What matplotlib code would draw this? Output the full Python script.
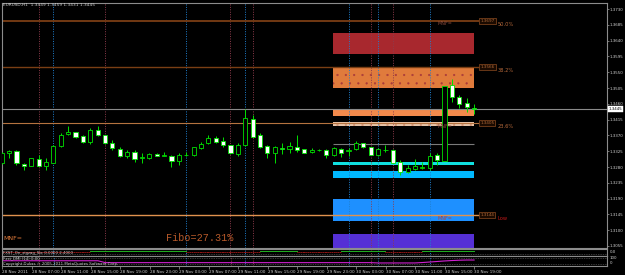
import numpy as np
import matplotlib
matplotlib.use("Agg")
import matplotlib.pyplot as plt
from matplotlib.transforms import blended_transform_factory

# ---------------- data ----------------
opens = [1.3291,1.3320,1.3325,1.3289,1.3284,1.3303,1.3284,1.3292,1.3341,1.3373,
 1.3379,1.3367,1.3352,1.3386,1.3370,1.3349,1.3332,1.3310,1.3322,1.3307,
 1.3307,1.3318,1.3311,1.3312,1.3296,1.3315,1.3313,1.3333,1.3348,1.3364,
 1.3353,1.3342,1.3317,1.3343,1.3416,1.3370,1.3340,1.3321,1.3333,1.3330,
 1.3338,1.3330,1.3323,1.3328,1.3327,1.3315,1.3330,1.3325,1.3330,1.3347,
 1.3336,1.3314,1.3329,1.3329,1.3293,1.3267,1.3275,1.3278,1.3276,1.3314,
 1.3298,1.3514,1.3479,1.3461,1.3449]
highs = [1.3324,1.3329,1.3327,1.3292,1.3307,1.3314,1.3305,1.3343,1.3376,1.3397,
 1.3381,1.3371,1.3390,1.3397,1.3371,1.3357,1.3336,1.3329,1.3329,1.3319,
 1.3321,1.3321,1.3324,1.3314,1.3321,1.3324,1.3338,1.3352,1.3371,1.3368,
 1.3366,1.3343,1.3348,1.3444,1.3428,1.3376,1.3343,1.3340,1.3348,1.3352,
 1.3371,1.3332,1.3333,1.3332,1.3330,1.3336,1.3333,1.3333,1.3355,1.3348,
 1.3338,1.3333,1.3343,1.3330,1.3300,1.3286,1.3302,1.3295,1.3319,1.3321,
 1.3512,1.3530,1.3485,1.3476,1.3459]
lows = [1.3289,1.3305,1.3286,1.3272,1.3283,1.3283,1.3272,1.3291,1.3338,1.3371,
 1.3364,1.3348,1.3346,1.3369,1.3346,1.3329,1.3309,1.3305,1.3295,1.3291,
 1.3302,1.3310,1.3310,1.3281,1.3286,1.3310,1.3311,1.3330,1.3346,1.3349,
 1.3338,1.3318,1.3310,1.3340,1.3365,1.3333,1.3305,1.3292,1.3317,1.3319,
 1.3324,1.3319,1.3319,1.3325,1.3305,1.3310,1.3308,1.3310,1.3329,1.3335,
 1.3314,1.3310,1.3324,1.3291,1.3257,1.3262,1.3272,1.3273,1.3272,1.3286,
 1.3296,1.3466,1.3447,1.3438,1.3431]
closes = [1.3321,1.3325,1.3291,1.3284,1.3305,1.3284,1.3295,1.3340,1.3371,1.3381,
 1.3365,1.3352,1.3385,1.3371,1.3348,1.3333,1.3310,1.3322,1.3302,1.3308,
 1.3316,1.3310,1.3313,1.3298,1.3313,1.3314,1.3336,1.3346,1.3362,1.3352,
 1.3343,1.3319,1.3343,1.3419,1.3366,1.3338,1.3321,1.3336,1.3332,1.3340,
 1.3327,1.3321,1.3328,1.3327,1.3314,1.3333,1.3321,1.3328,1.3348,1.3336,
 1.3315,1.3331,1.3328,1.3292,1.3267,1.3276,1.3282,1.3279,1.3311,1.3300,
 1.3511,1.3479,1.3460,1.3450,1.3445]

time_labels = ["28 Nov 2011", "28 Nov 07:00", "28 Nov 11:00", "28 Nov 15:00",
               "28 Nov 19:00", "28 Nov 23:00", "29 Nov 03:00", "29 Nov 07:00",
               "29 Nov 11:00", "29 Nov 15:00", "29 Nov 19:00", "29 Nov 23:00",
               "30 Nov 03:00", "30 Nov 07:00", "30 Nov 11:00", "30 Nov 15:00",
               "30 Nov 19:00"]
time_label_bars = list(range(0, 65, 4))

price_ticks = [1.3730, 1.3685, 1.3640, 1.3595, 1.3550, 1.3505, 1.3460, 1.3415,
               1.3370, 1.3325, 1.3280, 1.3235, 1.3190, 1.3145, 1.3100, 1.3055]
bid = 1.3445

fib_levels = [1.3697, 1.3566, 1.3405, 1.3144]
fib_names = ["50.0%", "38.2%", "23.6%", "Low"]

zone_lo = [1.3602, 1.3504, 1.3425, 1.3397, 1.3286, 1.3248, 1.3127, 1.3049]
zone_hi = [1.3663, 1.3564, 1.3445, 1.3407, 1.3293, 1.3269, 1.3189, 1.3089]
zone_colors = ["#A8282E", "#E07B3C", "#F38A4C", "#E6C2A6",
               "#10E0E0", "#00B8FF", "#1E90FF", "#5530D5"]
zone_start, zone_end = 44.9, 64.0
mid_line = 1.3345

red_vlines = [5, 14, 31, 34, 50, 53]
blue_vlines = [7, 25, 33, 47, 51, 58]

sub1_state = [0]*12 + [1]*13 + [0]*10 + [1]*5 + [0]*6 + [1]*6 + [0]*5 + [1]*8
sub2_vals = [50]*14 + [32]*37 + [29]*6 + [33, 38, 43, 48, 52, 55, 57, 57]

# ---------------- figure ----------------
W, H = 625, 275
fig = plt.figure(figsize=(6.25, 2.75), dpi=100, facecolor="black")

def box(x0, y0, x1, y1):
    return [x0 / W, 1 - y1 / H, (x1 - x0) / W, (y1 - y0) / H]

xlim = ((2 - 1.7) / 7.38, (607 - 1.7) / 7.38)
ax = fig.add_axes(box(2, 3, 607, 248))
ax1 = fig.add_axes(box(2, 248.5, 607, 255.5))
ax2 = fig.add_axes(box(2, 255.5, 607, 266))
for a in (ax, ax1, ax2):
    a.set_facecolor("black")
    a.set_xlim(*xlim)
    for s in a.spines.values():
        s.set_color("#8C8C8C")
        s.set_linewidth(0.8)
ax.set_ylim(1.30493, 1.37471)

green = "#00E000"
txtc = "#CFCFCF"

# zones
for lo, hi, col in zip(zone_lo, zone_hi, zone_colors):
    ax.fill_between([zone_start, zone_end], lo, hi, color=col, lw=0, zorder=1)
matplotlib.rcParams["hatch.linewidth"] = 0.35
ax.fill_between([zone_start, zone_end], zone_lo[1], zone_hi[1], facecolor="none",
                edgecolor="#A83A3A", hatch="..", lw=0, zorder=1.1)
ax.fill_between([zone_start, zone_end], zone_lo[3], zone_hi[3], facecolor="none",
                edgecolor="#D09070", hatch="..", lw=0, zorder=1.1)

# vertical event lines
for v in red_vlines:
    for a in (ax, ax1, ax2):
        a.axvline(v, color="#8E3B4C", lw=0.7, ls=(0, (1, 1.5)), zorder=2)
for v in blue_vlines:
    for a in (ax, ax1, ax2):
        a.axvline(v, color="#1F7FCF", lw=0.7, ls=(0, (1, 1.5)), zorder=2)

# horizontal lines
fib_cols = ["#7A3E14", "#7A3E14", "#B5733F", "#E0924E"]
fib_lw = [1.3, 1.0, 0.8, 1.0]
for lv, col, lw in zip(fib_levels, fib_cols, fib_lw):
    ax.hlines(lv, xlim[0], 64.7, color=col, lw=lw, zorder=2.5)
ax.axhline(bid, color="#8A8A8A", lw=0.8, zorder=2.5)
ax.hlines(mid_line, zone_start, zone_end, color="#7A7A7A", lw=0.8, zorder=2.5)

# candles
idx = np.arange(len(opens))
o = np.array(opens); c = np.array(closes)
ax.vlines(idx, lows, highs, color=green, lw=0.7, zorder=3)
bottoms = np.minimum(o, c)
heights = np.maximum(np.abs(c - o), 0.00004)
faces = ["white" if cc < oo else "black" for oo, cc in zip(o, c)]
ax.bar(idx, heights, bottom=bottoms, width=0.56, color=faces,
       edgecolor=green, lw=0.6, zorder=4)

# fib labels
for lv, nm, col in zip(fib_levels, fib_names, fib_cols):
    ax.text(64.85, lv, f"{lv:.4f}", fontsize=3.0, color="#B06A3A", va="center",
            ha="left", zorder=6,
            bbox=dict(boxstyle="square,pad=0.25", fc="#1A0A00", ec="#8B4A20", lw=0.5))
    ax.annotate(nm, xy=(67.2, lv), xytext=(0, -2.6), textcoords="offset points",
                fontsize=3.7, color="#C01818" if nm == "Low" else "#B5683A",
                va="center", ha="left", zorder=6)
for lv, col in zip([fib_levels[0], fib_levels[2], fib_levels[3]],
                   ["#8B4A3A", "#8B4A3A", "#B04040"]):
    ax.annotate("MNF=", xy=(59.0, lv), xytext=(0, -2.4), textcoords="offset points",
                fontsize=3.5, color=col, va="center", ha="left", zorder=6)

# texts in main window
ax.text(0.002, 0.99, "EURUSD,H1  1.3449 1.3459 1.3431 1.3445", transform=ax.transAxes,
        fontsize=3.1, color=txtc, va="center", ha="left")
ax.text(0.002, 0.037, "MNF=", transform=ax.transAxes, fontsize=4.5,
        color="#E07A3A", va="center", ha="left")
ax.text(0.271, 0.041, "Fibo=27.31%", transform=ax.transAxes, fontsize=7.3,
        family="Liberation Mono", color="#B85A2A", va="center", ha="left")

# price axis
ax.yaxis.tick_right()
ax.set_yticks(price_ticks)
ax.set_yticklabels([f"{p:.4f}" for p in price_ticks])
ax.tick_params(axis="y", length=1.5, width=0.5, colors="#A0A0A0", labelsize=2.9,
               pad=0.6, labelcolor=txtc)
ax.set_xticks([])
ax.text(1.002, bid, f"{bid:.4f}", transform=blended_transform_factory(ax.transAxes, ax.transData),
        fontsize=2.9, color="black", va="center", ha="left",
        bbox=dict(boxstyle="square,pad=0.15", fc="white", ec="white", lw=0.3))

# sub window 1
ax1.set_ylim(0, 1)
ax1.set_xticks([]); ax1.set_yticks([])
st = np.array(sub1_state)
for i in range(len(st) - 1):
    if st[i] == 1:
        ax1.plot([i, i + 1], [0.62, 0.62], color="#20B020", lw=0.7)
    else:
        ax1.plot([i, i + 1], [0.52, 0.52], color="#E02020", lw=0.7, ls=(0, (1, 1)))
ax1.axhline(0.25, color="#707070", lw=0.5, ls=(0, (1, 1.5)))
ax1.text(0.001, 0.35, "FXST_On_zigzag_Stc 0.0000 2.4000", transform=ax1.transAxes,
         fontsize=2.8, color=txtc, va="center", ha="left")
ax1.text(1.004, 0.5, "0.0", transform=ax1.transAxes, fontsize=2.8, color=txtc,
         va="center", ha="left")

# sub window 2
ax2.set_ylim(0, 100)
ax2.set_yticks([])
ax2.plot(idx, sub2_vals, color="#D020D0", lw=0.8)
for lv in (80, 20):
    ax2.axhline(lv, color="#707070", lw=0.5, ls=(0, (1, 1.5)))
ax2.text(0.001, 0.68, "Fxst_DMI (14) 0.00", transform=ax2.transAxes,
         fontsize=2.8, color=txtc, va="center", ha="left")
ax2.text(0.001, 0.2, "Copyright Dukas \u00a9 2005-2011 MetaQuotes Software Corp.",
         transform=ax2.transAxes, fontsize=2.8, color=txtc, va="center", ha="left")
ax2.text(1.004, 0.75, "100", transform=ax2.transAxes, fontsize=2.8, color=txtc,
         va="center", ha="left")
ax2.text(1.004, 0.27, "0", transform=ax2.transAxes, fontsize=2.8, color=txtc,
         va="center", ha="left")

ax2.set_xticks(time_label_bars)
ax2.set_xticklabels(time_labels, ha="left")
ax2.tick_params(axis="x", length=2, width=0.5, colors="#A0A0A0", labelsize=3.0,
                pad=1, labelcolor=txtc)

fig.savefig("out.png", dpi=100, facecolor="black")
